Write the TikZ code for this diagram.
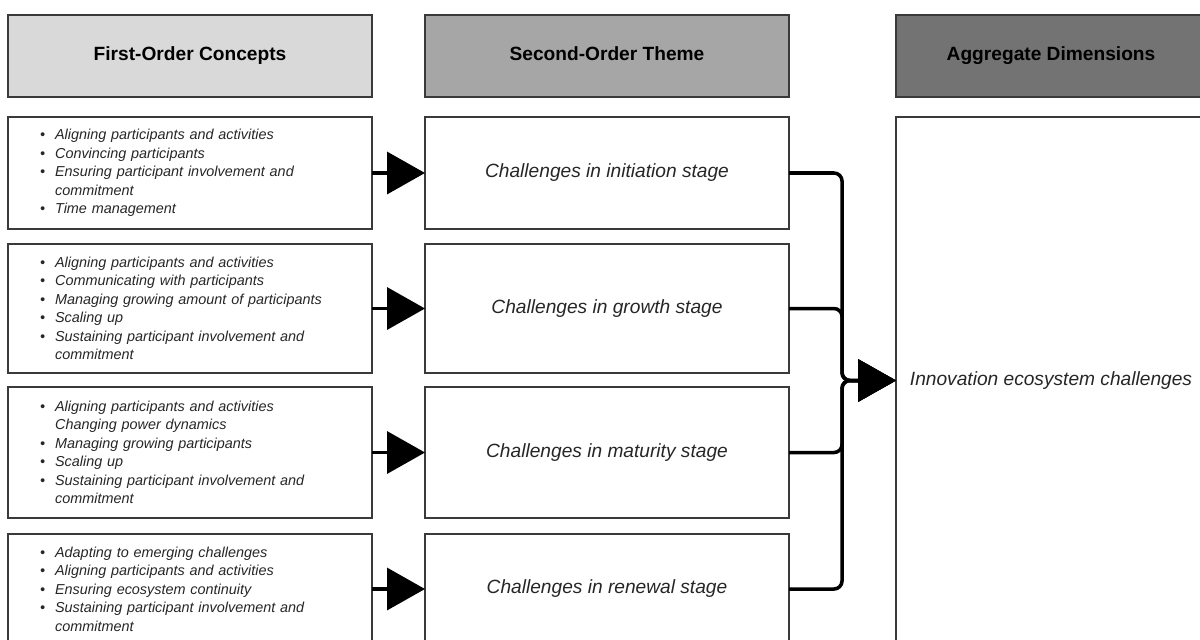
\documentclass[tikz,border=0pt]{standalone}
\usepackage{fontspec}
\setmainfont{Liberation Sans}
\usepackage{xcolor}
\definecolor{lineDark}{HTML}{3A3A3A}
\definecolor{textDark}{HTML}{262626}
\definecolor{headLight}{HTML}{D9D9D9}
\definecolor{headMid}{HTML}{A6A6A6}
\definecolor{headDark}{HTML}{737373}
\usepackage{tikz}
\usetikzlibrary{positioning,calc,arrows.meta}
\newcommand{\bitem}[1]{\makebox[8.6pt][l]{\textbullet}#1}
\newcommand{\bcont}[1]{\hspace*{8.6pt}#1}
\tikzset{%
  headBox/.style={%
    rectangle,
    draw=lineDark,
    line width=0.8pt,
    minimum width=7.28cm,
    minimum height=1.64cm,
    text height=8pt,
    text depth=2.4pt,
    font=\fontsize{10.9}{13}\selectfont\bfseries,
    align=center
  },
  conceptBox/.style={%
    rectangle,
    draw=lineDark,
    line width=0.7pt,
    inner xsep=0.64cm,
    text width=6cm,
    minimum width=7.28cm,
    align=left,
    text=textDark,
    font=\fontsize{8.2}{10.5}\selectfont\itshape
  },
  themeBox/.style={%
    rectangle,
    draw=lineDark,
    line width=0.7pt,
    minimum width=7.28cm,
    align=center,
    text=textDark,
    font=\fontsize{10.9}{13}\selectfont\itshape
  },
  aggrBox/.style={%
    rectangle,
    draw=lineDark,
    line width=0.7pt,
    minimum width=6.2cm,
    minimum height=10.54cm,
    align=center,
    text=textDark,
    font=\fontsize{10.9}{13}\selectfont\itshape
  },
  flowArrow/.style={%
    -{Triangle[length=0.76cm,width=0.84cm]},
    line width=2pt,
    color=black
  },
  mergeLine/.style={%
    flowArrow,
    rounded corners=0.16cm
  }
}

\begin{document}
\begin{tikzpicture}[
    node distance=1.06cm,
    every node/.style={outer sep=0pt}
  ]
  \useasboundingbox (0,0) rectangle (24,-12.78);
  % column headers
  \node[headBox, fill=headLight, anchor=north west] (headFirst) at (0.16,-0.3) {First-Order Concepts};
  \node[headBox, fill=headMid, right=1.06cm of headFirst] (headSecond) {Second-Order Theme};
  \node[headBox, fill=headDark, minimum width=6.2cm, right=2.14cm of headSecond] (headAggr) {Aggregate Dimensions};

  % first-order concepts
  \node[conceptBox, minimum height=2.24cm, below=0.4cm of headFirst] (conInit) {%
    \bitem{Aligning participants and activities}\\
    \bitem{Convincing participants}\\
    \bitem{Ensuring participant involvement and}\\
    \bcont{commitment}\\
    \bitem{Time management}};
  \node[conceptBox, minimum height=2.58cm, below=0.3cm of conInit] (conGrowth) {%
    \bitem{Aligning participants and activities}\\
    \bitem{Communicating with participants}\\
    \bitem{Managing growing amount of participants}\\
    \bitem{Scaling up}\\
    \bitem{Sustaining participant involvement and}\\
    \bcont{commitment}};
  \node[conceptBox, minimum height=2.62cm, below=0.28cm of conGrowth] (conMature) {%
    \bitem{Aligning participants and activities}\\
    \bcont{Changing power dynamics}\\
    \bitem{Managing growing participants}\\
    \bitem{Scaling up}\\
    \bitem{Sustaining participant involvement and}\\
    \bcont{commitment}};
  \node[conceptBox, minimum height=2.2cm, below=0.32cm of conMature] (conRenew) {%
    \bitem{Adapting to emerging challenges}\\
    \bitem{Aligning participants and activities}\\
    \bitem{Ensuring ecosystem continuity}\\
    \bitem{Sustaining participant involvement and}\\
    \bcont{commitment}};

  % second-order themes
  \node[themeBox, minimum height=2.24cm, right=of conInit] (themeInit) {Challenges in initiation stage};
  \node[themeBox, minimum height=2.58cm, right=of conGrowth] (themeGrowth) {Challenges in growth stage};
  \node[themeBox, minimum height=2.62cm, right=of conMature] (themeMature) {Challenges in maturity stage};
  \node[themeBox, minimum height=2.2cm, right=of conRenew] (themeRenew) {Challenges in renewal stage};

  % aggregate dimension
  \node[aggrBox, below=0.4cm of headAggr] (aggr) {Innovation ecosystem challenges};
  \coordinate[left=1.08cm of aggr.west] (merge);

  % connectors
  \foreach \stage in {Init,Growth,Mature,Renew}{
    \draw[flowArrow] (con\stage) -- (theme\stage);
    \draw[mergeLine] (theme\stage) -| (merge) -- (aggr);
  }
\end{tikzpicture}
\end{document}
